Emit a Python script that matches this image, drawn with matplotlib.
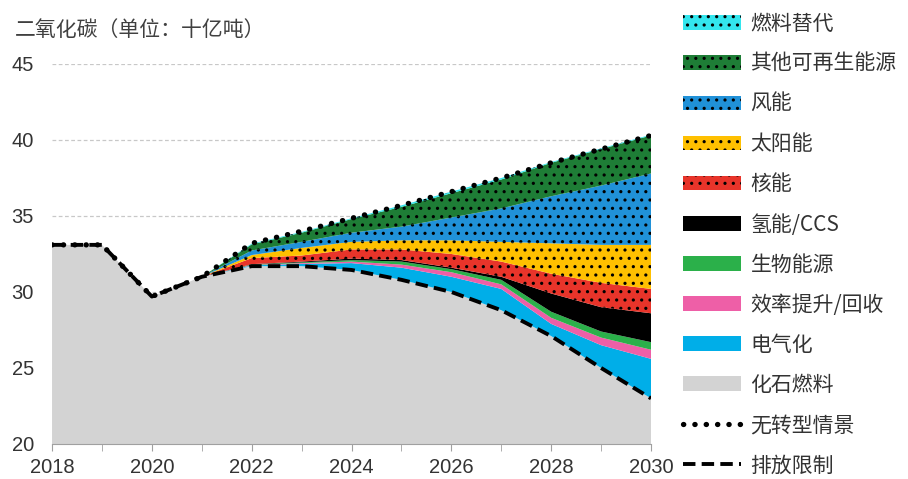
import matplotlib
matplotlib.use('Agg')
import matplotlib.pyplot as plt
import numpy as np
from matplotlib.patches import Patch
from matplotlib.lines import Line2D

plt.rcParams['font.family'] = ['Liberation Sans', 'Noto Sans CJK SC']
plt.rcParams['hatch.linewidth'] = 1.1

years = np.arange(2018, 2031)

# stacked wedges (bottom -> top), billion tonnes CO2
fossil = [33.1, 33.1, 29.7, 31.0, 31.7, 31.7, 31.45, 30.8, 30.0, 28.8, 27.1, 25.0, 23.0]
electrification = [0, 0, 0, 0, 0.05, 0.15, 0.45, 0.8, 1.0, 1.4, 0.8, 1.5, 2.6]
efficiency = [0, 0, 0, 0, 0.03, 0.05, 0.1, 0.2, 0.3, 0.3, 0.4, 0.5, 0.6]
bioenergy = [0, 0, 0, 0, 0.03, 0.05, 0.1, 0.2, 0.2, 0.3, 0.4, 0.4, 0.5]
hydrogen_ccs = [0, 0, 0, 0, 0.02, 0.05, 0.1, 0.1, 0.1, 0.2, 1.2, 1.6, 1.9]
nuclear = [0, 0, 0, 0, 0.4, 0.4, 0.6, 0.7, 0.9, 1.0, 1.3, 1.6, 1.6]
solar = [0, 0, 0, 0, 0.2, 0.5, 0.5, 0.6, 0.9, 1.3, 2.0, 2.5, 2.9]
wind = [0, 0, 0, 0, 0.3, 0.4, 0.6, 0.9, 1.5, 2.2, 3.1, 3.9, 4.7]
other_renew = [0, 0, 0, 0, 0.4, 0.6, 0.9, 1.3, 1.6, 1.9, 2.2, 2.4, 2.5]
fuel_switch = [0, 0, 0, 0, 0.05, 0.05, 0.05, 0.1, 0.1, 0.1, 0.05, 0.05, 0.05]

no_transition = [33.1, 33.1, 29.7, 31.0, 33.2, 34.0, 34.85, 35.7, 36.6, 37.5, 38.5, 39.4, 40.3]
emission_limit = [33.1, 33.1, 29.7, 31.0, 31.7, 31.7, 31.45, 30.8, 30.0, 28.8, 27.1, 25.0, 23.0]

layers = [fossil, electrification, efficiency, bioenergy, hydrogen_ccs,
          nuclear, solar, wind, other_renew, fuel_switch]
labels = ['化石燃料', '电气化', '效率提升/回收', '生物能源', '氢能/CCS',
          '核能', '太阳能', '风能', '其他可再生能源', '燃料替代']
colors = ['#d3d3d3', '#00aee8', '#ee5fa7', '#2bb04a', '#000000',
          '#e8342a', '#ffc000', '#2091d8', '#1e7d36', '#33e6ee']
hatches = [None, None, None, None, None, '..', '..', '..', '..', '..']

fig = plt.figure(figsize=(9.08, 4.79), dpi=100)
ax = fig.add_axes([0.0573, 0.0731, 0.6597, 0.7933])

ax.yaxis.grid(True, color='#c8c8c8', linestyle=(0, (3, 2)), linewidth=0.9)
ax.set_axisbelow(True)

ax.stackplot(years, layers, colors=colors, hatch=hatches, linewidth=0, zorder=2)

ax.plot(years, no_transition, color='black', linestyle=(0, (0.05, 2.1)),
        linewidth=3.8, dash_capstyle='round', zorder=4)
ax.plot(years, emission_limit, color='black', linestyle=(0, (3.2, 1.6)),
        linewidth=2.8, zorder=5)

ax.set_xlim(2018, 2030)
ax.set_ylim(20, 45)
ax.set_yticks([20, 25, 30, 35, 40, 45])
ax.set_xticks(np.arange(2018, 2031, 2))
ax.set_xticks(np.arange(2018, 2031, 1), minor=True)

for s in ['left', 'right', 'top']:
    ax.spines[s].set_visible(False)
ax.spines['bottom'].set_color('#a0a0a0')
ax.spines['bottom'].set_zorder(6)
ax.tick_params(axis='y', length=0, pad=13, labelsize=14.5, labelcolor='#333333')
ax.tick_params(axis='x', which='both', length=5, color='#a0a0a0', direction='out')
ax.tick_params(axis='x', pad=5, labelsize=14.5, labelcolor='#333333')

fig.text(0.0165, 0.937, '二氧化碳（单位：十亿吨）', fontsize=15, color='#404040',
         family=['Noto Sans CJK SC'], va='center')

# legend, top to bottom
handles = []
leg_labels = []
for i in range(len(layers) - 1, -1, -1):
    handles.append(Patch(facecolor=colors[i], hatch=hatches[i], linewidth=0))
    leg_labels.append(labels[i])
handles.append(Line2D([], [], color='black', linestyle=(0, (0.05, 2.1)), linewidth=3.8,
                      dash_capstyle='round'))
leg_labels.append('无转型情景')
handles.append(Line2D([], [], color='black', linestyle=(0, (3.2, 1.6)), linewidth=2.8))
leg_labels.append('排放限制')

leg = fig.legend(handles, leg_labels, loc='upper left', bbox_to_anchor=(0.752, 0.973),
                 frameon=False, handlelength=2.8, handleheight=0.7, handletextpad=0.45,
                 labelspacing=0.87, borderaxespad=0, borderpad=0,
                 prop={'family': ['Noto Sans CJK SC'], 'size': 15})
for t in leg.get_texts():
    t.set_color('#333333')

fig.savefig('out.png', dpi=100)
